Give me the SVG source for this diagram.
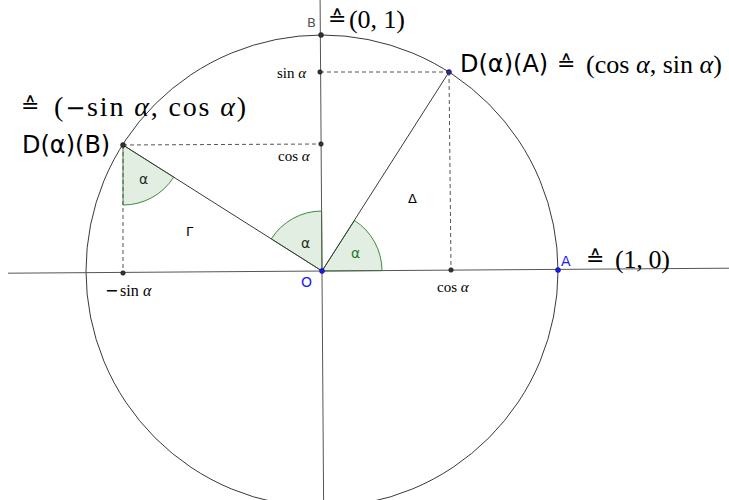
<svg xmlns="http://www.w3.org/2000/svg" width="729" height="500" viewBox="0 0 729 500">
<style>
.ax{stroke:#555;stroke-width:1;fill:none}
.seg{stroke:#3a3a3a;stroke-width:1;fill:none}
.dash{stroke:#555;stroke-width:1;stroke-dasharray:4 3;fill:none}
.sector{fill:#006400;fill-opacity:0.11;stroke:#3f8a3f;stroke-width:1}
.pt{fill:#333;stroke:#111;stroke-width:0.5}
.bpt{fill:#1a1aff;stroke:#00005a;stroke-width:0.5}
.tex{font-family:"Liberation Serif","DejaVu Serif","DejaVu Sans",serif;fill:#000}
.hat{font-family:"DejaVu Sans","Liberation Sans",sans-serif;fill:#000}
.sans{font-family:"DejaVu Sans","Liberation Sans",sans-serif}
.it{font-style:italic}
.small{font-size:15px}
.big{font-size:26px}
.lbl{font-size:24px;fill:#000}
.ang{font-size:14px}
</style>
<rect width="729" height="500" fill="#fff"/>
<g id="sectors">
<path id="angle1" class="sector" d="M322,271 L382,270.6 A60,60 0 0 0 354.5,220.5 Z"/>
<path id="angle2" class="sector" d="M322,271 L321.6,211 A60,60 0 0 0 271.3,238.9 Z"/>
<path id="angle3" class="sector" d="M123,145 L123,205 A60,60 0 0 0 173.7,177.1 Z"/>
</g>
<g id="connectors">
<circle cx="322" cy="271" r="236" class="seg"/>
<line class="ax" x1="8" y1="273.2" x2="729" y2="268.2"/>
<line class="ax" x1="320.1" y1="0" x2="323.6" y2="500"/>
<line class="seg" x1="322" y1="271" x2="449" y2="72"/>
<line class="seg" x1="322" y1="271" x2="123" y2="145"/>
<line class="dash" x1="320" y1="72" x2="449" y2="72"/>
<line class="dash" x1="449" y1="72" x2="451" y2="270"/>
<line class="dash" x1="123" y1="145" x2="321" y2="144"/>
<line class="dash" x1="123" y1="145" x2="123" y2="273"/>
</g>
<g id="O"><circle class="bpt" cx="322" cy="271" r="2.5"/><text class="sans" x="301" y="287" font-size="14" fill="#1a1aff">O</text></g>
<g id="A"><circle class="bpt" cx="558" cy="270" r="2.5"/><text class="sans" x="561" y="266" font-size="14" fill="#1a1aff">A</text>
<text class="hat" x="586" y="266" font-size="22">≙</text><text class="tex big" x="615" y="268" textLength="55" lengthAdjust="spacing">(1, 0)</text></g>
<g id="B"><circle class="pt" cx="321" cy="35" r="2.5"/><text class="sans" x="307" y="27" font-size="13" fill="#555">B</text>
<text class="hat" x="328" y="26" font-size="22">≙</text><text class="tex big" x="349" y="28" textLength="56" lengthAdjust="spacing">(0, 1)</text></g>
<g id="DA"><circle cx="449" cy="72" r="2.5" fill="#2a2a9a" stroke="#000040" stroke-width="0.5"/>
<text class="sans lbl" x="460" y="72">D(α)(A)</text>
<text class="hat" x="557" y="71" font-size="22">≙</text>
<text class="tex big" x="586" y="73" textLength="136" lengthAdjust="spacingAndGlyphs">(cos <tspan class="it">α</tspan>, sin <tspan class="it">α</tspan>)</text></g>
<g id="DB"><circle class="pt" cx="123" cy="145" r="2.5"/>
<text class="sans lbl" x="22" y="153">D(α)(B)</text>
<text class="hat" x="21" y="113" font-size="22">≙</text>
<text class="tex" x="54" y="116" font-size="28" textLength="192" lengthAdjust="spacing">(<tspan font-family="DejaVu Sans, sans-serif" font-size="24">−</tspan>sin <tspan class="it">α</tspan>, cos <tspan class="it">α</tspan>)</text></g>
<g id="sinA"><circle class="pt" cx="320" cy="72" r="2.3"/><text class="tex small" x="277" y="78">sin <tspan class="it">α</tspan></text></g>
<g id="cosAy"><circle class="pt" cx="321" cy="144" r="2.3"/><text class="tex small" x="278" y="161">cos <tspan class="it">α</tspan></text></g>
<g id="cosAx"><circle class="pt" cx="451" cy="270" r="2.3"/><text class="tex small" x="437" y="292">cos <tspan class="it">α</tspan></text></g>
<g id="msinA"><circle class="pt" cx="123" cy="273" r="2.3"/><text class="tex" font-size="16" y="296"><tspan x="105" font-family="DejaVu Sans, sans-serif">−</tspan><tspan x="120">sin</tspan><tspan x="143" class="it">α</tspan></text></g>
<g id="labels">
<text class="sans" x="186" y="236" font-size="13">Γ</text>
<text class="sans" x="408" y="203" font-size="13">Δ</text>
<text class="sans ang" x="351" y="258" fill="#1f7a1f">α</text>
<text class="sans ang" x="301" y="248" fill="#1e2e1e">α</text>
<text class="sans ang" x="139" y="184" fill="#1e2e1e">α</text>
</g>
</svg>
